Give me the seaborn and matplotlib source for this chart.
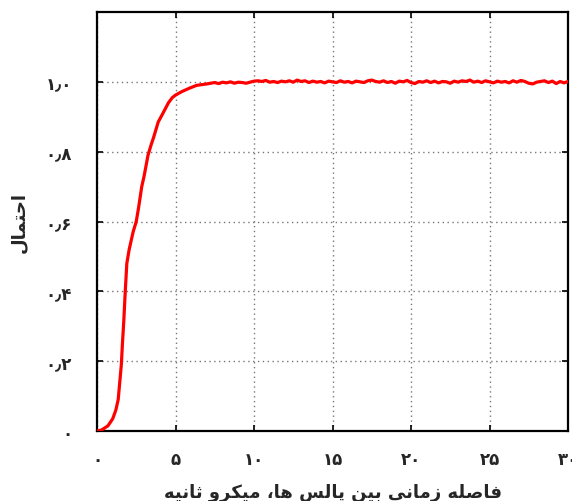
import numpy as np
import pandas as pd
import matplotlib
matplotlib.use("Agg")
import matplotlib.pyplot as plt
import seaborn as sns

# ---- data ----
x_rise = [0.0, 0.3, 0.7, 1.0, 1.2, 1.35, 1.45, 1.55, 1.62, 1.7, 1.8, 1.9, 2.05, 2.3, 2.5,
          2.65, 2.85, 3.0, 3.25, 3.45, 3.6, 3.9, 4.2, 4.55, 4.8, 5.0, 5.4, 5.9, 6.35, 7.0]
y_rise = [0.0, 0.003, 0.015, 0.035, 0.06, 0.09, 0.14, 0.19, 0.25, 0.31, 0.40, 0.48, 0.52, 0.57, 0.60,
          0.64, 0.70, 0.73, 0.79, 0.82, 0.84, 0.885, 0.91, 0.94, 0.955, 0.962, 0.972, 0.982, 0.99, 0.994]

x_plateau = [7.25, 7.5, 7.75, 8.0, 8.25, 8.5, 8.75, 9.0, 9.25, 9.5, 9.75, 10.0, 10.25, 10.5, 10.75,
             11.0, 11.25, 11.5, 11.75, 12.0, 12.25, 12.5, 12.75, 13.0, 13.25, 13.5, 13.75, 14.0,
             14.25, 14.5, 14.75, 15.0, 15.25, 15.5, 15.75, 16.0, 16.25, 16.5, 16.75, 17.0, 17.25,
             17.5, 17.75, 18.0, 18.25, 18.5, 18.75, 19.0, 19.25, 19.5, 19.75, 20.0, 20.25, 20.5,
             20.75, 21.0, 21.25, 21.5, 21.75, 22.0, 22.25, 22.5, 22.75, 23.0, 23.25, 23.5, 23.75,
             24.0, 24.25, 24.5, 24.75, 25.0, 25.25, 25.5, 25.75, 26.0, 26.25, 26.5, 26.75, 27.0,
             27.25, 27.5, 27.75, 28.0, 28.25, 28.5, 28.75, 29.0, 29.25, 29.5, 29.75, 30.0]
y_plateau = [0.996, 0.998, 0.995, 0.999, 0.997, 1.000, 0.996, 0.999, 0.998, 0.996, 0.999, 1.002,
             1.003, 1.001, 1.004, 0.999, 1.001, 0.998, 1.002, 1.000, 1.003, 0.999, 1.005, 1.001,
             1.003, 0.998, 1.002, 0.999, 1.001, 0.997, 1.002, 1.000, 0.998, 1.003, 0.999, 1.001,
             0.997, 1.002, 1.000, 0.998, 1.003, 1.005, 1.001, 0.999, 1.003, 0.998, 1.001, 0.996,
             1.002, 1.000, 1.004, 0.998, 0.995, 1.001, 0.999, 1.003, 0.998, 1.002, 0.997, 1.001,
             1.000, 0.996, 1.002, 0.999, 1.003, 1.001, 1.005, 0.999, 1.002, 0.998, 1.003, 1.000,
             0.997, 1.002, 0.999, 1.001, 0.997, 1.003, 0.999, 1.004, 1.001, 0.996, 0.994, 0.999,
             1.001, 1.003, 0.998, 1.002, 0.995, 1.001, 0.997, 1.001]

x_ticks = [0, 5, 10, 15, 20, 25, 30]
x_ticklabels = ["۰", "۵", "۱۰", "۱۵", "۲۰", "۲۵", "۳۰"]
y_ticks = [0.0, 0.2, 0.4, 0.6, 0.8, 1.0]
y_ticklabels = ["۰", "۰٫۲", "۰٫۴", "۰٫۶", "۰٫۸", "۱٫۰"]
x_label = "فاصله زمانی بین پالس ها، میکرو ثانیه"
y_label = "احتمال"

# ---- simple Arabic/Persian shaping (matplotlib has no complex text layout) ----
FORMS = {  # isolated, final, initial, medial
    "ا": ("\uFE8D", "\uFE8E", None, None),
    "ب": ("\uFE8F", "\uFE90", "\uFE91", "\uFE92"),
    "پ": ("\uFB56", "\uFB57", "\uFB58", "\uFB59"),
    "ت": ("\uFE95", "\uFE96", "\uFE97", "\uFE98"),
    "ث": ("\uFE99", "\uFE9A", "\uFE9B", "\uFE9C"),
    "ح": ("\uFEA1", "\uFEA2", "\uFEA3", "\uFEA4"),
    "ر": ("\uFEAD", "\uFEAE", None, None),
    "ز": ("\uFEAF", "\uFEB0", None, None),
    "س": ("\uFEB1", "\uFEB2", "\uFEB3", "\uFEB4"),
    "ص": ("\uFEB9", "\uFEBA", "\uFEBB", "\uFEBC"),
    "ف": ("\uFED1", "\uFED2", "\uFED3", "\uFED4"),
    "ک": ("\uFB8E", "\uFB8F", "\uFB90", "\uFB91"),
    "ل": ("\uFEDD", "\uFEDE", "\uFEDF", "\uFEE0"),
    "م": ("\uFEE1", "\uFEE2", "\uFEE3", "\uFEE4"),
    "ن": ("\uFEE5", "\uFEE6", "\uFEE7", "\uFEE8"),
    "ه": ("\uFEE9", "\uFEEA", "\uFEEB", "\uFEEC"),
    "و": ("\uFEED", "\uFEEE", None, None),
    "ی": ("\uFBFC", "\uFBFD", "\uFBFE", "\uFBFF"),
}


def shape(text):
    out = []
    n = len(text)
    for i, ch in enumerate(text):
        if ch not in FORMS:
            out.append(ch)
            continue
        f = FORMS[ch]
        prev = text[i - 1] if i > 0 else None
        nxt = text[i + 1] if i < n - 1 else None
        jp = prev in FORMS and FORMS[prev][2] is not None
        jn = f[2] is not None and nxt in FORMS
        if jp and jn:
            out.append(f[3])
        elif jp:
            out.append(f[1])
        elif jn:
            out.append(f[2])
        else:
            out.append(f[0])
    return "".join(reversed(out))


# ---- plot ----
sns.set_style("white")
plt.rcParams["font.family"] = ["DejaVu Sans"]

df = pd.DataFrame({"x": x_rise + x_plateau, "y": y_rise + y_plateau})

fig = plt.figure(figsize=(5.72, 5.02), dpi=100)
ax = fig.add_axes([97 / 572, 70 / 502, 471 / 572, 419 / 502])
sns.lineplot(data=df, x="x", y="y", ax=ax, color="#ff0000", linewidth=2.3,
             estimator=None, sort=False, zorder=3)

ax.set_xlim(0, 30)
ax.set_ylim(0, 1.2)
ax.set_xticks(x_ticks)
ax.set_xticklabels(x_ticklabels, fontsize=12, fontweight="bold")
ax.set_yticks(y_ticks)
ax.set_yticklabels(y_ticklabels, fontsize=12, fontweight="bold")
ax.tick_params(direction="in", length=4, width=1.2, color="black",
               top=True, right=True, bottom=True, left=True)
ax.tick_params(axis="x", pad=14)
ax.tick_params(axis="y", pad=18)
ax.grid(True, linestyle=(0, (1, 2.5)), color="#777777", linewidth=1.0)
for sp in ax.spines.values():
    sp.set_visible(True)
    sp.set_color("black")
    sp.set_linewidth(1.6)

ax.set_xlabel(shape(x_label), fontsize=13, fontweight="bold", labelpad=10)
ax.set_ylabel(shape(y_label), fontsize=13, fontweight="bold", labelpad=13)

fig.savefig("out.png", dpi=100)
